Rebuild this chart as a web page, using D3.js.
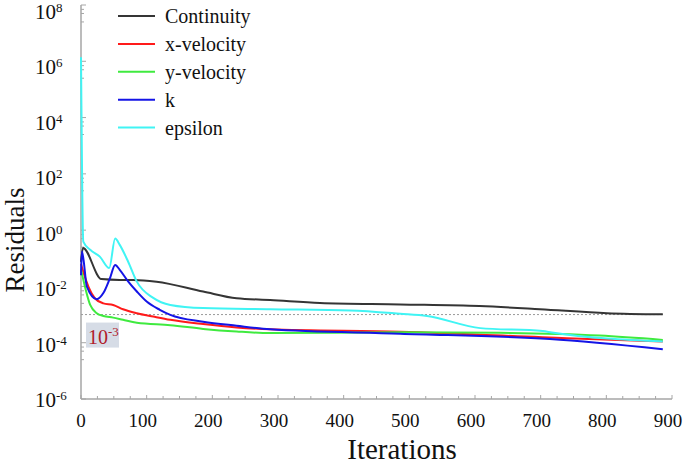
<!DOCTYPE html>
<html><head><meta charset="utf-8">
<script src="https://cdn.jsdelivr.net/npm/d3@7"></script>
<style>body{margin:0;background:#fff}svg{display:block}svg text{font-family:"Liberation Serif","Times New Roman",Times,serif}</style>
</head><body><svg id="c" width="685" height="464" font-family="Liberation Serif, Times New Roman, serif"></svg>
<script>
// ---- data (iteration, residual) ----
const seriesNames = ["Continuity","x-velocity","y-velocity","k","epsilon"];
const seriesColors = ["#353535","#ff1a1a","#3fea3f","#1414e6","#40f4f4"];
const continuity = [[0,0.074],[3,0.234],[31,0.0182],[59,0.017],[80,0.017],[115,0.0148],[186,0.0066],[237,0.0038],[288,0.0033],[364,0.0026],[486,0.0023],[607,0.0020],[699,0.00155],[801,0.00112],[886,0.00102]];
const xVelocity = [[0,0.063],[2.5,0.039],[21,0.0038],[34,0.0025],[49,0.0022],[64,0.00155],[85,0.00112],[110,8.5e-4],[136,6.5e-4],[186,4.6e-4],[237,3.5e-4],[288,3.0e-4],[486,2.45e-4],[740,1.45e-4],[886,1.1e-4]];
const yVelocity = [[0,0.04],[2.5,0.022],[14,0.0022],[24,0.00112],[34,8.9e-4],[49,7.8e-4],[64,6.5e-4],[85,5.1e-4],[136,4.2e-4],[186,3.1e-4],[237,2.5e-4],[288,2.2e-4],[486,2.35e-4],[638,2.25e-4],[790,1.8e-4],[886,1.26e-4]];
const kData = [[0,0.025],[1.5,0.174],[9,0.0098],[24,0.0035],[34,0.0058],[44,0.0195],[52,0.058],[59,0.039],[72,0.0148],[85,0.0066],[100,0.0029],[120,0.00148],[136,9.8e-4],[186,5.6e-4],[237,4.0e-4],[288,3.0e-4],[486,2.1e-4],[714,1.35e-4],[886,5.9e-5]];
const epsilon = [[0,1.4e6],[3.5,0.39],[14,0.2],[29,0.112],[43,0.045],[52,0.5],[59,0.3],[72,0.074],[85,0.0148],[110,0.0039],[136,0.0022],[186,0.0017],[288,0.00155],[410,0.0014],[486,0.00107],[527,8.9e-4],[608,3.3e-4],[703,2.6e-4],[717,2.3e-4],[886,1.1e-4]];
const allSeries = [continuity, xVelocity, yVelocity, kData, epsilon];
const xTicks = [0,100,200,300,400,500,600,700,800,900];
const yExponents = [8,6,4,2,0,-2,-4,-6];
const thresholdValue = 1e-3;
const thresholdLabel = ["10","-3"];
const xTitle = "Iterations", yTitle = "Residuals";

// ---- layout ----
const svg = d3.select("#c");
const x = d3.scaleLinear().domain([0,900]).range([81,672]);
const y = d3.scaleLog().domain([1e-6,1e8]).range([399,5]);
// label baselines are spaced a little tighter than the ticks in the reference
const yLabelPos = d3.scaleLog().domain([1e-6,1e8]).range([407,19]);
const axisColor = "#a6a6a6";

// x axis
const xMinor = d3.range(0,901,25);
svg.append("line").attr("x1",x(0)).attr("x2",x(900)).attr("y1",y(1e-6)).attr("y2",y(1e-6)).attr("stroke",axisColor).attr("stroke-width",1.5);
svg.selectAll(".xt").data(xMinor).enter().append("line")
  .attr("x1",d=>x(d)).attr("x2",d=>x(d)).attr("y1",y(1e-6)).attr("y2",d=>y(1e-6)-(d%100===0?4:3))
  .attr("stroke",axisColor).attr("stroke-width",1);
svg.selectAll(".xl").data(xTicks).enter().append("text")
  .attr("x",d=>x(d)-(d===0?0:4)).attr("y",427).attr("text-anchor","middle").attr("font-size",19).attr("fill","#111").text(d=>d);

// y axis
svg.append("line").attr("x1",x(0)).attr("x2",x(0)).attr("y1",y(1e8)).attr("y2",y(1e-6)).attr("stroke",axisColor).attr("stroke-width",1.5);
const yMinor = [];
yExponents.forEach(e=>{ if(e>-6){ [0.7,0.5,0.25].forEach(f=>yMinor.push(f*Math.pow(10,e))); } });
svg.selectAll(".ymaj").data(yExponents).enter().append("line")
  .attr("x1",x(0)).attr("x2",x(0)+5).attr("y1",d=>y(Math.pow(10,d))).attr("y2",d=>y(Math.pow(10,d)))
  .attr("stroke",axisColor).attr("stroke-width",1);
svg.selectAll(".ymin").data(yMinor).enter().append("line")
  .attr("x1",x(0)).attr("x2",x(0)+3).attr("y1",d=>y(d)).attr("y2",d=>y(d))
  .attr("stroke",axisColor).attr("stroke-width",1);
const yl = svg.selectAll(".yl").data(yExponents).enter().append("text")
  .attr("x",35).attr("y",d=>yLabelPos(Math.pow(10,d))).attr("font-size",21).attr("fill","#111");
yl.append("tspan").text("10");
yl.append("tspan").attr("dy",-7).attr("font-size",13).text(d=>d<0?"-"+(-d):String(d));

// titles
svg.append("text").attr("x",402).attr("y",459).attr("text-anchor","middle").attr("font-size",29).attr("fill","#111").text(xTitle);
svg.append("text").attr("transform","translate(24,240) rotate(-90)").attr("text-anchor","middle").attr("font-size",27).attr("fill","#111").text(yTitle);

// threshold dashed line
svg.append("line").attr("x1",x(0)).attr("x2",x(886)).attr("y1",y(thresholdValue)).attr("y2",y(thresholdValue))
  .attr("stroke","#999").attr("stroke-width",1).attr("stroke-dasharray","2,2");

// curves
const line = d3.line().x(d=>x(d[0])).y(d=>y(d[1])).curve(d3.curveMonotoneX);
allSeries.forEach((s,i)=>{
  svg.append("path").attr("d",line(s)).attr("fill","none").attr("stroke",seriesColors[i]).attr("stroke-width",2).attr("stroke-linejoin","round");
});

// threshold label box
svg.append("rect").attr("x",86).attr("y",y(thresholdValue)+8).attr("width",33).attr("height",25).attr("fill","#d6dce6");
const tl = svg.append("text").attr("x",88).attr("y",y(thresholdValue)+29).attr("font-size",20).attr("fill","#b0202a");
tl.append("tspan").text(thresholdLabel[0]);
tl.append("tspan").attr("dy",-8).attr("font-size",13).text(thresholdLabel[1]);

// legend
const lg = svg.selectAll(".lg").data(seriesNames).enter().append("g")
  .attr("transform",(d,i)=>`translate(118,${16+i*27.9})`);
lg.append("line").attr("x1",0).attr("x2",37).attr("y1",0).attr("y2",0).attr("stroke",(d,i)=>seriesColors[i]).attr("stroke-width",2);
lg.append("text").attr("x",47).attr("y",7).attr("font-size",20).attr("fill","#111").text(d=>d);
</script></body></html>
